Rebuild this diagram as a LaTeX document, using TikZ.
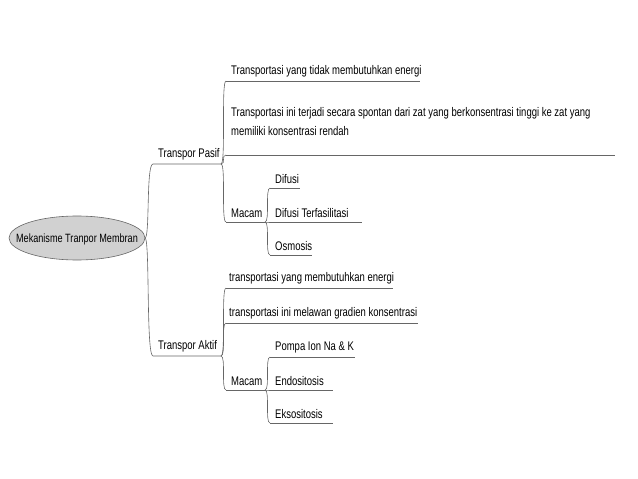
\documentclass[tikz,border=0pt]{standalone}
\usepackage{fontspec}
\setmainfont[FakeStretch=0.76]{Liberation Sans}
\begin{document}
\begin{tikzpicture}[x=1pt,y=-1pt,
  lbl/.style={anchor=south west,inner sep=1pt,font=\fontsize{12.5}{19}\selectfont},
  br/.style={draw=black!60,line width=0.6pt}]
\useasboundingbox (0,0) rectangle (638,479);
\draw[black!60,fill=black!18,line width=0.6pt] (77,238) ellipse [x radius=68,y radius=22];
\node[inner sep=0,font=\fontsize{12}{13}\selectfont] (root) at (77,239) {Mekanisme Tranpor Membran};
\coordinate (re) at (145,238);
% level 1
\coordinate (pa) at (153,164); \coordinate (pb) at (221,164);
\coordinate (aa) at (153,356); \coordinate (ab) at (221,356);
\node[lbl] (pasif) at (157,161) {Transpor Pasif};
\node[lbl] (aktif) at (157,353) {Transpor Aktif};
\draw[br] (re) .. controls (150,238) and (146,164) .. (pa) -- (pb);
\draw[br] (re) .. controls (150,238) and (146,356) .. (aa) -- (ab);
% pasif children
\coordinate (p1a) at (226,81); \coordinate (p1b) at (420,81);
\coordinate (p2a) at (226,155); \coordinate (p2b) at (615,155);
\coordinate (pma) at (226,222); \coordinate (pmb) at (265,222);
\node[lbl] (p1) at (230,78) {Transportasi yang tidak membutuhkan energi};
\node[lbl,align=left] (p2) at (230,137) {Transportasi ini terjadi secara spontan dari zat yang berkonsentrasi tinggi ke zat yang\\memiliki konsentrasi rendah};
\node[lbl] (pm) at (230,219) {Macam};
\foreach \t in {p1a,p2a,pma}{\draw[br] (pb) .. controls (226,164) and (221,0|-\t) .. (\t);}
\draw[br] (p1a)--(p1b); \draw[br] (p2a)--(p2b); \draw[br] (pma)--(pmb);
% pasif macam
\coordinate (d1a) at (270,188); \coordinate (d1b) at (300,188);
\coordinate (d2a) at (270,222); \coordinate (d2b) at (362,222);
\coordinate (d3a) at (270,255); \coordinate (d3b) at (312,255);
\node[lbl] (d1) at (274,185) {Difusi};
\node[lbl] (d2) at (274,219) {Difusi Terfasilitasi};
\node[lbl] (d3) at (274,252) {Osmosis};
\foreach \t in {d1a,d2a,d3a}{\draw[br] (pmb) .. controls (270,222) and (265,0|-\t) .. (\t);}
\draw[br] (d1a)--(d1b); \draw[br] (d2a)--(d2b); \draw[br] (d3a)--(d3b);
% aktif children
\coordinate (a1a) at (226,288); \coordinate (a1b) at (393,288);
\coordinate (a2a) at (226,323); \coordinate (a2b) at (418,323);
\coordinate (ama) at (226,390); \coordinate (amb) at (265,390);
\node[lbl] (a1) at (228,285) {transportasi yang membutuhkan energi};
\node[lbl] (a2) at (228,320) {transportasi ini melawan gradien konsentrasi};
\node[lbl] (am) at (230,387) {Macam};
\foreach \t in {a1a,a2a,ama}{\draw[br] (ab) .. controls (226,356) and (221,0|-\t) .. (\t);}
\draw[br] (a1a)--(a1b); \draw[br] (a2a)--(a2b); \draw[br] (ama)--(amb);
% aktif macam
\coordinate (e1a) at (270,357); \coordinate (e1b) at (355,357);
\coordinate (e2a) at (270,390); \coordinate (e2b) at (333,390);
\coordinate (e3a) at (270,423); \coordinate (e3b) at (333,423);
\node[lbl] (e1) at (274,354) {Pompa Ion Na \& K};
\node[lbl] (e2) at (274,387) {Endositosis};
\node[lbl] (e3) at (274,420) {Eksositosis};
\foreach \t in {e1a,e2a,e3a}{\draw[br] (amb) .. controls (270,390) and (265,0|-\t) .. (\t);}
\draw[br] (e1a)--(e1b); \draw[br] (e2a)--(e2b); \draw[br] (e3a)--(e3b);
\end{tikzpicture}
\end{document}
